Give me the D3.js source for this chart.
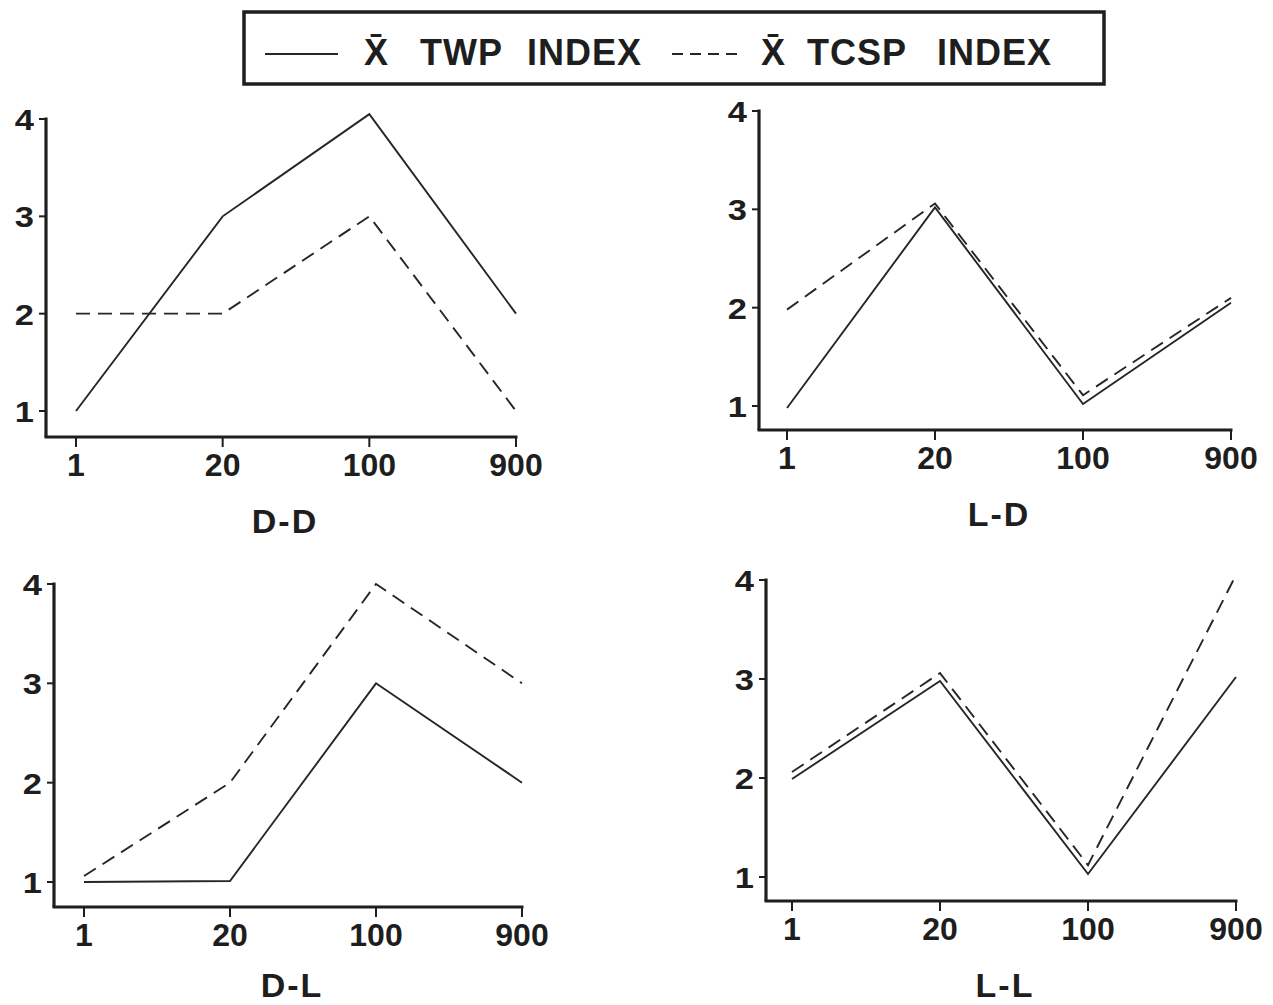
<!DOCTYPE html>
<html>
<head>
<meta charset="utf-8">
<script src="https://cdn.jsdelivr.net/npm/d3@7"></script>
<style>
  html, body { margin: 0; padding: 0; background: #ffffff; }
  svg { display: block; }
  text { font-family: "Liberation Sans", Arial, Helvetica, sans-serif; font-weight: bold; fill: #1e1e1e; }
</style>
</head>
<body>
<svg id="chart" width="1273" height="1005"></svg>
<script>
// ---------------- data ----------------
const categories = ["1", "20", "100", "900"];
const yTicks = [1, 2, 3, 4];
const panelNames = ["D-D", "L-D", "D-L", "L-L"];
const seriesNames = ["TWP INDEX", "TCSP INDEX"];

const twpDD  = [1.00, 3.00, 4.05, 2.00];
const tcspDD = [2.00, 2.00, 3.00, 1.00];
const twpLD  = [0.98, 3.02, 1.02, 2.05];
const tcspLD = [1.98, 3.06, 1.11, 2.10];
const twpDL  = [1.00, 1.01, 3.00, 2.00];
const tcspDL = [1.06, 2.00, 4.00, 3.00];
const twpLL  = [1.99, 2.98, 1.03, 3.02];
const tcspLL = [2.06, 3.06, 1.12, 4.05];

// ---------------- layout ----------------
const layout = [
  { name: panelNames[0], twp: twpDD, tcsp: tcspDD, axisX: 46,  x0: 76,  x1: 516,  yOne: 411, yFour: 119, axisY: 437 },
  { name: panelNames[1], twp: twpLD, tcsp: tcspLD, axisX: 759, x0: 787, x1: 1231, yOne: 406, yFour: 111, axisY: 430 },
  { name: panelNames[2], twp: twpDL, tcsp: tcspDL, axisX: 54,  x0: 84,  x1: 522,  yOne: 882, yFour: 584, axisY: 907 },
  { name: panelNames[3], twp: twpLL, tcsp: tcspLL, axisX: 766, x0: 792, x1: 1236, yOne: 877, yFour: 580, axisY: 901 }
];

const ink = "#1e1e1e";
const lineInk = "#262626";
const svg = d3.select("#chart");

layout.forEach(p => {
  const x = d3.scalePoint().domain(categories).range([p.x0, p.x1]);
  const y = d3.scaleLinear().domain([1, 4]).range([p.yOne, p.yFour]);
  const g = svg.append("g");

  // y axis line
  g.append("line")
    .attr("x1", p.axisX).attr("x2", p.axisX)
    .attr("y1", y(4) - 1.5).attr("y2", p.axisY)
    .attr("stroke", ink).attr("stroke-width", 3.2);
  // x axis line
  g.append("line")
    .attr("x1", p.axisX - 1.5).attr("x2", x(categories[categories.length - 1]) + 1.5)
    .attr("y1", p.axisY).attr("y2", p.axisY)
    .attr("stroke", ink).attr("stroke-width", 3.2);

  // y ticks
  g.selectAll(".yt").data(yTicks).enter().append("line")
    .attr("x1", p.axisX - 7).attr("x2", p.axisX)
    .attr("y1", d => y(d)).attr("y2", d => y(d))
    .attr("stroke", ink).attr("stroke-width", 2);
  g.selectAll(".yl").data(yTicks).enter().append("text")
    .attr("transform", d => `translate(${p.axisX - 12},${y(d) + 11}) scale(1.15,1)`)
    .attr("text-anchor", "end")
    .style("font-size", "30px")
    .text(d => d);

  // x ticks
  g.selectAll(".xt").data(categories).enter().append("line")
    .attr("x1", d => x(d)).attr("x2", d => x(d))
    .attr("y1", p.axisY).attr("y2", p.axisY + 10)
    .attr("stroke", ink).attr("stroke-width", 2);
  g.selectAll(".xl").data(categories).enter().append("text")
    .attr("x", d => x(d)).attr("y", p.axisY + 39)
    .attr("text-anchor", "middle")
    .style("font-size", "32px")
    .text(d => d);

  // panel title
  g.append("text")
    .attr("x", (p.axisX + p.x1) / 2 + 4).attr("y", Math.min(p.axisY + 96, 997))
    .attr("text-anchor", "middle")
    .style("font-size", "34px")
    .style("letter-spacing", "2px")
    .text(p.name);

  const line = d3.line().x((d, i) => x(categories[i])).y(d => y(d));

  g.append("path").datum(p.twp)
    .attr("d", line).attr("fill", "none")
    .attr("stroke", lineInk).attr("stroke-width", 1.9);
  g.append("path").datum(p.tcsp)
    .attr("d", line).attr("fill", "none")
    .attr("stroke", lineInk).attr("stroke-width", 1.9)
    .attr("stroke-dasharray", "14,8");
});

// ---------------- legend ----------------
const lg = svg.append("g");
lg.append("rect")
  .attr("x", 244).attr("y", 12).attr("width", 860).attr("height", 72)
  .attr("fill", "none").attr("stroke", ink).attr("stroke-width", 3.5);

lg.append("line")
  .attr("x1", 265).attr("x2", 338).attr("y1", 54).attr("y2", 54)
  .attr("stroke", lineInk).attr("stroke-width", 1.8);
lg.append("line")
  .attr("x1", 672).attr("x2", 741).attr("y1", 54).attr("y2", 54)
  .attr("stroke", lineInk).attr("stroke-width", 1.8)
  .attr("stroke-dasharray", "11,7");

const legendItems = [
  { bar: 376, words: seriesNames[0].split(" "), wx: [420, 527] },
  { bar: 773, words: seriesNames[1].split(" "), wx: [807, 937] }
];
legendItems.forEach(it => {
  lg.append("text")
    .attr("x", it.bar).attr("y", 65)
    .attr("text-anchor", "middle")
    .style("font-size", "36px")
    .text("X\u0304");
  it.words.forEach((w, i) => {
    lg.append("text")
      .attr("x", it.wx[i]).attr("y", 65)
      .style("font-size", "36px")
      .style("letter-spacing", "1px")
      .text(w);
  });
});
</script>
</body>
</html>
